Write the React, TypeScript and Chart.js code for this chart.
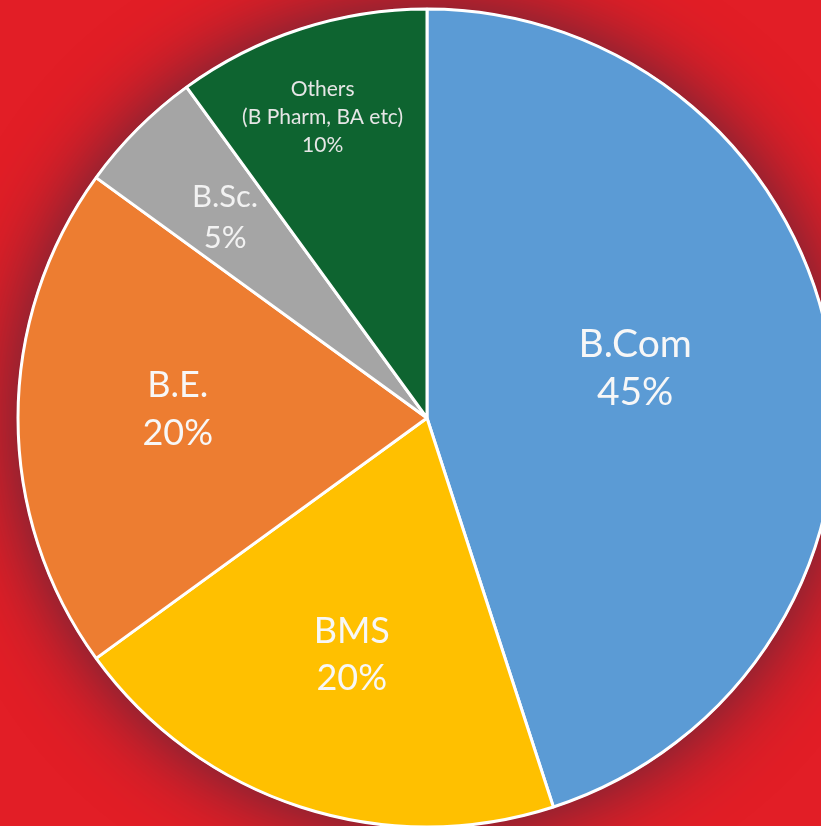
import React, { useEffect, useRef } from "react";
import { Chart, registerables } from "chart.js";

Chart.register(...registerables);

// ---- data ----
const categories = ["B.Com", "BMS", "B.E.", "B.Sc.", "Others"];
const values = [45, 20, 20, 5, 10];
const notes = ["", "", "", "", "(B Pharm, BA etc)"];
const colors = ["#5B9BD5", "#FFC000", "#ED7D31", "#A5A5A5", "#0E6430"];

// ---- label styling (placement relative to each slice) ----
const labelStyle = [
  { f: 0.524, da: -4.8, size: 39, lh: 48, color: "#F7F7F7" },
  { f: 0.605, da: -0.3, size: 36, lh: 47, color: "#F7F7F7" },
  { f: 0.61, da: 2.3, size: 36, lh: 48, color: "#F7F7F7" },
  { f: 0.697, da: -0.1, size: 31, lh: 41, color: "#F2F2F2" },
  { f: 0.78, da: -1.1, size: 21, lh: 28, color: "#E6E6E6" },
];

const FONT = "Lato, 'Open Sans', sans-serif";

const shadowPlugin = {
  id: "pieShadow",
  beforeDatasetsDraw(chart: any) {
    const meta = chart.getDatasetMeta(0);
    const arc = meta.data[0];
    if (!arc) return;
    const { x, y, outerRadius } = arc.getProps(["x", "y", "outerRadius"], true);
    const ctx = chart.ctx;
    ctx.save();
    ctx.shadowColor = "rgba(75, 40, 60, 0.95)";
    ctx.shadowBlur = 80;
    ctx.fillStyle = "#ffffff";
    ctx.beginPath();
    ctx.arc(x, y, outerRadius + 1, 0, Math.PI * 2);
    ctx.fill();
    ctx.restore();
  },
};

const labelPlugin = {
  id: "sliceLabels",
  afterDatasetsDraw(chart: any) {
    const meta = chart.getDatasetMeta(0);
    const ctx = chart.ctx;
    meta.data.forEach((arc: any, i: number) => {
      const p = arc.getProps(["x", "y", "startAngle", "endAngle", "outerRadius"], true);
      const st = labelStyle[i];
      const mid = (p.startAngle + p.endAngle) / 2 + (st.da * Math.PI) / 180;
      const cx = p.x + Math.cos(mid) * p.outerRadius * st.f;
      const cy = p.y + Math.sin(mid) * p.outerRadius * st.f;
      const lines = [categories[i]];
      if (notes[i]) lines.push(notes[i]);
      lines.push(values[i] + "%");
      ctx.save();
      ctx.font = `${st.size}px ${FONT}`;
      ctx.fillStyle = st.color;
      ctx.textAlign = "center";
      ctx.textBaseline = "alphabetic";
      const capH = st.size * 0.72;
      const n = lines.length;
      lines.forEach((ln, k) => {
        const yy = cy + (k - (n - 1) / 2) * st.lh + capH / 2;
        ctx.fillText(ln, cx, yy);
      });
      ctx.restore();
    });
  },
};

export default function App() {
  const ref = useRef<HTMLCanvasElement>(null);
  useEffect(() => {
    document.body.style.margin = "0";
    if (!ref.current) return;
    const chart = new Chart(ref.current, {
      type: "pie",
      data: {
        labels: categories,
        datasets: [
          {
            data: values,
            backgroundColor: colors,
            borderColor: "#ffffff",
            borderWidth: 3,
            radius: 409,
          } as any,
        ],
      },
      options: {
        animation: false,
        responsive: false,
        rotation: 0,
        plugins: {
          legend: { display: false },
          tooltip: { enabled: false },
        },
        layout: { padding: 0 },
      },
      plugins: [shadowPlugin, labelPlugin],
    });
    return () => chart.destroy();
  }, []);
  return (
    <div
      style={{
        position: "fixed",
        left: 0,
        top: 0,
        width: 821,
        height: 826,
        overflow: "hidden",
        background: "#E21E26",
      }}
    >
      <canvas
        ref={ref}
        width={900}
        height={900}
        style={{ position: "absolute", left: -23, top: -32, width: 900, height: 900 }}
      />
    </div>
  );
}
